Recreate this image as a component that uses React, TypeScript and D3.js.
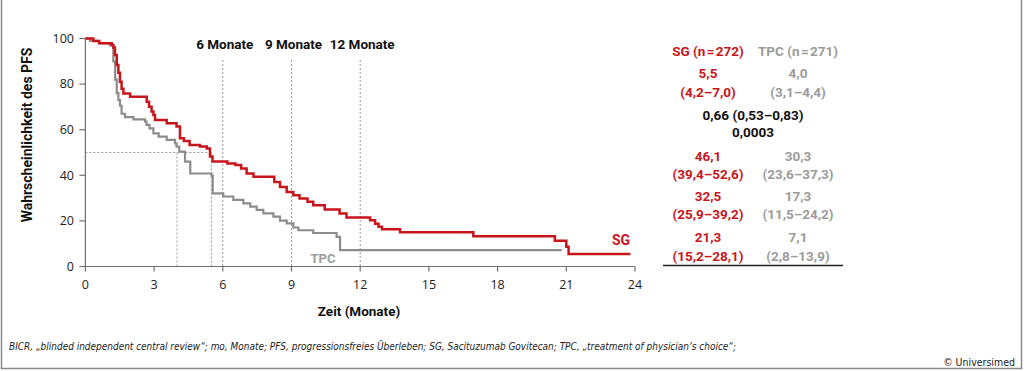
import * as d3 from 'd3';

// Kaplan-Meier PFS (step start in months, % progression-free)
const sgTimes = [0, 0.35, 0.6, 1.15, 1.22, 1.29, 1.37, 1.44, 1.51, 1.58, 1.66, 1.95, 2.68, 2.78, 2.89, 2.97, 3.04, 3.55, 3.98, 4.13, 4.3, 4.55, 5.0, 5.3, 5.44, 5.55, 6.2, 6.55, 6.8, 7.04, 7.34, 8.25, 8.5, 8.79, 9.08, 9.35, 9.7, 9.95, 10.45, 11.1, 11.4, 12.43, 12.65, 12.8, 12.95, 13.74, 16.94, 20.5, 21.0, 21.1, 23.8];
const sgSurv = [100, 98.9, 97.9, 97.2, 96, 92.8, 88.4, 85, 81, 78, 75.9, 74.4, 72.3, 70.1, 68, 66.4, 64.3, 62.8, 61.4, 56.2, 55, 53.3, 52.6, 51.8, 48.2, 46, 45.2, 44.5, 43, 40.8, 39.4, 37.1, 34.9, 32.7, 31.3, 29.8, 28.4, 26.9, 25, 23.2, 21.5, 20.3, 18.8, 17.4, 16.3, 15, 13.3, 11.3, 8.7, 5.5, 5.5];

const tpcTimes = [0, 0.2, 0.6, 1.07, 1.22, 1.3, 1.37, 1.44, 1.51, 1.58, 1.73, 2.1, 2.6, 2.67, 2.8, 2.97, 3.2, 3.55, 3.91, 3.98, 4.1, 4.35, 4.58, 5.51, 5.56, 6.02, 6.46, 6.9, 7.2, 7.48, 7.77, 8.21, 8.5, 8.79, 9.08, 9.3, 9.95, 10.97, 11.12, 20.8];
const tpcSurv = [100, 99, 98, 97, 90, 82, 76, 73, 70.5, 67, 65.5, 64.5, 63.6, 62.1, 60.6, 58.4, 57, 55.5, 54, 52.6, 50.4, 46, 40.8, 39.8, 32.1, 30.7, 29.2, 27.7, 26.3, 24.8, 23.3, 21.9, 20.1, 18.9, 17.1, 15.9, 14.7, 13, 7.2, 7.2];

const xTicks = [0, 3, 6, 9, 12, 15, 18, 21, 24];
const yTicks = [0, 20, 40, 60, 80, 100];
const milestones = [6, 9, 12];
const milestoneLabels = ['6 Monate', '9 Monate', '12 Monate'];
const medians = [4.0, 5.5];

const tableHeader = ['SG (n\u200A=\u200A272)', 'TPC (n\u200A=\u200A271)'];
const sgRows = [['5,5', '(4,2–7,0)'], ['46,1', '(39,4–52,6)'], ['32,5', '(25,9–39,2)'], ['21,3', '(15,2–28,1)']];
const tpcRows = [['4,0', '(3,1–4,4)'], ['30,3', '(23,6–37,3)'], ['17,3', '(11,5–24,2)'], ['7,1', '(2,8–13,9)']];
const hrRows = ['0,66 (0,53–0,83)', '0,0003'];

const footnote = 'BICR, „blinded independent central review“; mo, Monate; PFS, progressionsfreies Überleben; SG, Sacituzumab Govitecan; TPC, „treatment of physician’s choice“;';

const RED = '#c8151b';
const GRAY = '#8c8c8c';
const LIGHT = '#9b9b9b';
const AXIS = '#707070';

export default function App() {
  const width = 1024;
  const height = 371;

  const x = d3.scaleLinear().domain([0, 24]).range([85.4, 635]);
  const y = d3.scaleLinear().domain([0, 100]).range([266.5, 38.5]);

  const line = d3.line<[number, number]>()
    .x(d => x(d[0]))
    .y(d => y(d[1]))
    .curve(d3.curveStepAfter);

  const sgPath = line(sgTimes.map((t, i) => [t, sgSurv[i]] as [number, number])) || '';
  const tpcPath = line(tpcTimes.map((t, i) => [t, tpcSurv[i]] as [number, number])) || '';

  const sansBold = 'Roboto, "Open Sans", sans-serif';
  const narrow = '"Liberation Sans Narrow", "DejaVu Sans Condensed", sans-serif';

  // table row centre positions
  const rowY = [[73, 92.5], [156, 174.5], [196, 214.5], [237, 256.5]];
  const sgX = 708;
  const tpcX = 798;

  return (
    <svg width={width} height={height} style={{ position: 'absolute', left: 0, top: 0, background: '#fff' }}>
      <rect x={1.5} y={-5} width={1020} height={373.5} fill="#fff" stroke="#8a8a8a" strokeWidth={1.5} />

      {/* milestone guides */}
      {milestones.map((m, i) => (
        <g key={m}>
          <line x1={x(m)} x2={x(m)} y1={60} y2={y(0)} stroke="#9a9a9a" strokeWidth={1} strokeDasharray="2,2" />
          <text x={x(m) + 2} y={49} textAnchor="middle" fontFamily={sansBold} fontWeight="bold" fontSize={13.5} fill="#111">
            {milestoneLabels[i]}
          </text>
        </g>
      ))}

      {/* median guides */}
      <line x1={x(0)} x2={x(medians[1])} y1={y(50)} y2={y(50)} stroke="#9a9a9a" strokeWidth={1} strokeDasharray="2,2" />
      {medians.map(m => (
        <line key={m} x1={x(m)} x2={x(m)} y1={y(50)} y2={y(0)} stroke="#9a9a9a" strokeWidth={1} strokeDasharray="2,2" />
      ))}

      {/* axes */}
      <line x1={x(0)} x2={x(0)} y1={y(100)} y2={y(0)} stroke={AXIS} strokeWidth={1.2} />
      <line x1={x(0)} x2={x(24)} y1={y(0)} y2={y(0)} stroke={AXIS} strokeWidth={1.2} />
      {yTicks.map(t => (
        <g key={t}>
          <line x1={x(0) - 6} x2={x(0)} y1={y(t)} y2={y(t)} stroke={AXIS} strokeWidth={1.2} />
          <text x={74} y={y(t)} dy="0.35em" textAnchor="end" fontFamily={'"Open Sans", sans-serif'} fontSize={12.5} fill="#222">{t}</text>
        </g>
      ))}
      {xTicks.map(t => (
        <g key={t}>
          <line x1={x(t)} x2={x(t)} y1={y(0)} y2={y(0) + 5} stroke={AXIS} strokeWidth={1.2} />
          <text x={x(t)} y={285} dy="0.35em" textAnchor="middle" fontFamily={'"Open Sans", sans-serif'} fontSize={12.5} fill="#222">{t}</text>
        </g>
      ))}
      <text transform={`translate(27,135) rotate(-90)`} textAnchor="middle" dy="0.35em" fontFamily={sansBold} fontWeight="bold" fontSize={14} fill="#111">
        Wahrscheinlichkeit des PFS
      </text>
      <text x={359} y={311} dy="0.35em" textAnchor="middle" fontFamily={sansBold} fontWeight="bold" fontSize={13.5} fill="#111">
        Zeit (Monate)
      </text>

      {/* curves */}
      <path d={tpcPath} fill="none" stroke={GRAY} strokeWidth={2.2} />
      <path d={sgPath} fill="none" stroke={RED} strokeWidth={2.5} />
      <text x={621} y={240} dy="0.35em" textAnchor="middle" fontFamily={sansBold} fontWeight="bold" fontSize={14} fill={RED}>SG</text>
      <text x={323} y={258} dy="0.35em" textAnchor="middle" fontFamily={sansBold} fontWeight="bold" fontSize={13} fill={LIGHT}>TPC</text>

      {/* table */}
      <g fontFamily={sansBold} fontWeight="bold" fontSize={13.5}>
        <text x={sgX} y={51} dy="0.35em" textAnchor="middle" fill={RED}>{tableHeader[0]}</text>
        <text x={tpcX} y={51} dy="0.35em" textAnchor="middle" fill={LIGHT}>{tableHeader[1]}</text>
        {sgRows.map((r, i) => (
          <g key={'sg' + i}>
            <text x={sgX} y={rowY[i][0]} dy="0.35em" textAnchor="middle" fill={RED}>{r[0]}</text>
            <text x={sgX} y={rowY[i][1]} dy="0.35em" textAnchor="middle" fill={RED}>{r[1]}</text>
          </g>
        ))}
        {tpcRows.map((r, i) => (
          <g key={'tpc' + i}>
            <text x={tpcX} y={rowY[i][0]} dy="0.35em" textAnchor="middle" fill={LIGHT}>{r[0]}</text>
            <text x={tpcX} y={rowY[i][1]} dy="0.35em" textAnchor="middle" fill={LIGHT}>{r[1]}</text>
          </g>
        ))}
        <text x={753} y={115} dy="0.35em" textAnchor="middle" fill="#111">{hrRows[0]}</text>
        <text x={753} y={132} dy="0.35em" textAnchor="middle" fill="#111">{hrRows[1]}</text>
      </g>
      <line x1={663} x2={843} y1={265.5} y2={265.5} stroke="#222" strokeWidth={1.5} />

      {/* footer */}
      <text x={9} y={346} dy="0.35em" fontFamily={narrow} fontStyle="italic" fontSize={11} fill="#222" textLength={727} lengthAdjust="spacingAndGlyphs">
        {footnote}
      </text>
      <text x={1015} y={362} dy="0.35em" textAnchor="end" fontFamily={narrow} fontSize={10.5} fill="#222">© Universimed</text>
    </svg>
  );
}
